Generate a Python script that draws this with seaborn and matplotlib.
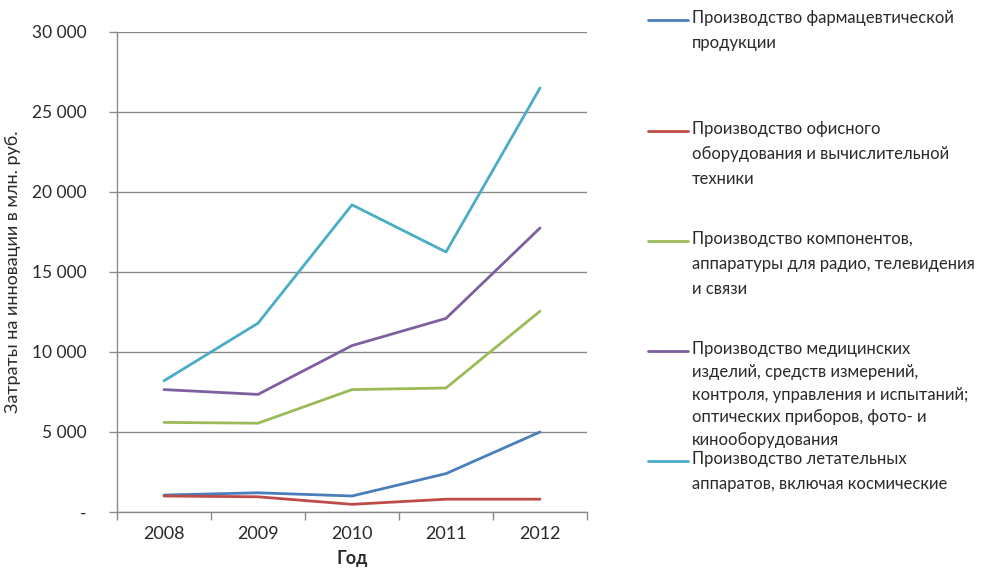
import matplotlib
matplotlib.use("Agg")
import matplotlib.pyplot as plt
import seaborn as sns
import pandas as pd
import numpy as np
from matplotlib.lines import Line2D
from matplotlib.ticker import FixedLocator, FuncFormatter

years = ["2008", "2009", "2010", "2011", "2012"]
series_names = [
    "Производство фармацевтической\nпродукции",
    "Производство офисного\nоборудования и вычислительной\nтехники",
    "Производство компонентов,\nаппаратуры для радио, телевидения\nи связи",
    "Производство медицинских\nизделий, средств измерений,\nконтроля, управления и испытаний;\nоптических приборов, фото- и\nкинооборудования",
    "Производство летательных\nаппаратов, включая космические",
]
pharma = [1060, 1200, 1000, 2400, 5000]
office = [1000, 950, 480, 800, 800]
radio = [5600, 5550, 7650, 7750, 12550]
medical = [7650, 7350, 10400, 12100, 17750]
aircraft = [8200, 11800, 19200, 16250, 26500]
colors = ["#4A7EBB", "#BE4B48", "#9BBB59", "#7D60A0", "#4BACC6"]
yticks = [0, 5000, 10000, 15000, 20000, 25000, 30000]

values = [pharma, office, radio, medical, aircraft]
df = pd.DataFrame({
    "x": np.tile(np.arange(len(years)), len(series_names)),
    "y": np.concatenate(values),
    "s": np.repeat(series_names, len(years)),
})

sns.set_theme(style="white")
plt.rcParams["font.family"] = ["Lato", "DejaVu Sans"]

fig = plt.figure(figsize=(9.84, 5.71), dpi=100)
ax = fig.add_axes([117 / 984, 59 / 571, 470 / 984, 480 / 571])

sns.lineplot(data=df, x="x", y="y", hue="s", palette=colors, hue_order=series_names,
             linewidth=2.0, legend=False, ax=ax, sort=False)

ax.set_xlim(-0.5, len(years) - 0.5)
ax.set_ylim(0, 30000)
ax.yaxis.set_major_locator(FixedLocator(yticks))
ax.yaxis.set_major_formatter(FuncFormatter(lambda v, p: "-" if v == 0 else f"{int(v):,}".replace(",", " ")))
ax.grid(axis="y", color="#8a8a8a", linewidth=1.0)
ax.grid(axis="x", visible=False)
ax.set_axisbelow(True)

ax.xaxis.set_major_locator(FixedLocator(np.arange(-0.5, len(years), 1.0)))
ax.xaxis.set_minor_locator(FixedLocator(np.arange(len(years))))
ax.set_xticklabels([])
ax.set_xticklabels(years, minor=True)
ax.tick_params(axis="x", which="major", length=6, width=1, color="#8a8a8a", direction="out", bottom=True)
ax.tick_params(axis="x", which="minor", length=0, pad=10, labelsize=13, labelcolor="#2a2a2a")
ax.tick_params(axis="y", length=6, width=1, color="#8a8a8a", direction="out", left=True,
               labelsize=12.5, labelcolor="#2a2a2a", pad=16)

for side in ["top", "right"]:
    ax.spines[side].set_visible(False)
for side in ["left", "bottom"]:
    ax.spines[side].set_color("#8a8a8a")
    ax.spines[side].set_linewidth(1.0)

ax.set_xlabel("Год", fontsize=13, fontweight="bold", color="#2a2a2a", labelpad=6)
ax.set_ylabel("Затраты на инновации в млн. руб.", fontsize=13, color="#2a2a2a", labelpad=8)

# legend (Excel style, fixed spacing)
legend_tops = [20, 131, 241, 351, 461]
for name, col, ytop in zip(series_names, colors, legend_tops):
    yf = 1 - ytop / 571
    nlines = name.count("\n") + 1
    ls = 1.52 if nlines > 3 else 1.68
    fig.add_artist(Line2D([648 / 984, 688 / 984], [yf, yf], color=col, linewidth=2.0))
    fig.text(692 / 984, 1 - (ytop - 10) / 571, name, ha="left", va="top", fontsize=12,
             color="#2a2a2a", linespacing=ls)

fig.savefig("out.png", dpi=100)
